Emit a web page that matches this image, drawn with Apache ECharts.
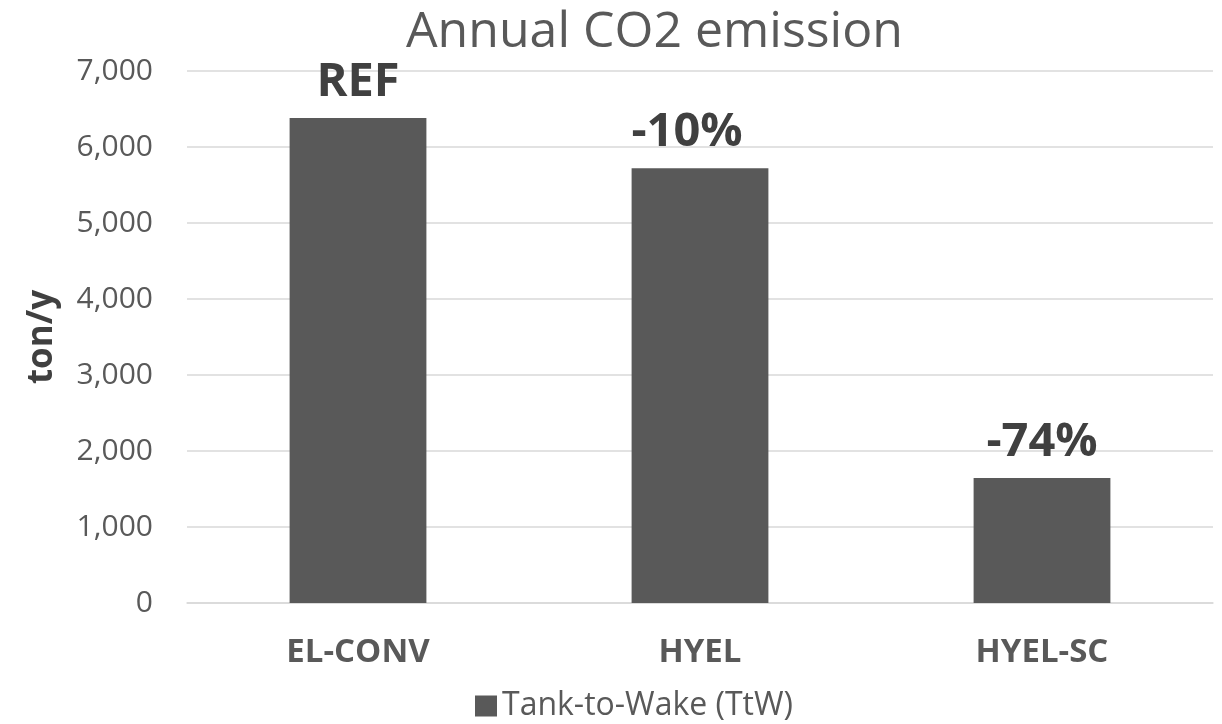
<!DOCTYPE html>
<html>
<head>
<meta charset="utf-8">
<script src="https://cdn.jsdelivr.net/npm/echarts@6/dist/echarts.min.js"></script>
<style>html,body{margin:0;padding:0;background:#fff}#c{width:1222px;height:724px}</style>
</head>
<body>
<div id="c"></div>
<script>
const categories = ['EL-CONV', 'HYEL', 'HYEL-SC'];
const ttwValues = [6380, 5720, 1645];
const barLabels = ['REF', '-10%', '-74%'];
const seriesName = 'Tank-to-Wake (TtW)';

const chart = echarts.init(document.getElementById('c'));
const FONT = '"Open Sans", "Noto Sans", sans-serif';
const labelOffsets = [[0, 0], [-13, 0], [0, 0]];
chart.setOption({
  animation: false,
  backgroundColor: '#fff',
  textStyle: { fontFamily: FONT },
  title: {
    text: 'Annual CO2 emission',
    left: 401, top: 3,
    textStyle: { fontFamily: FONT, fontSize: 50, fontWeight: 'normal', color: '#595959' }
  },
  legend: {
    data: [seriesName],
    left: 470, top: 685,
    icon: 'rect', itemWidth: 22, itemHeight: 21, itemGap: 10,
    textStyle: { fontFamily: FONT, fontSize: 32, color: '#595959' }
  },
  grid: { left: 187, right: 9, top: 71, bottom: 121, containLabel: false },
  xAxis: {
    type: 'category',
    data: categories,
    axisLine: { lineStyle: { color: '#d9d9d9', width: 1.5 } },
    axisTick: { show: false },
    axisLabel: { fontFamily: FONT, fontSize: 33, fontWeight: 'bold', color: '#595959', margin: 33 }
  },
  yAxis: {
    type: 'value',
    min: 0, max: 7000, interval: 1000,
    name: 'ton/y',
    nameLocation: 'middle',
    nameGap: 127,
    nameTextStyle: { fontFamily: FONT, fontSize: 35, fontWeight: 'bold', color: '#404040' },
    axisLine: { show: false },
    axisTick: { show: false },
    splitLine: { lineStyle: { color: '#d9d9d9', width: 1.5 } },
    axisLabel: {
      fontFamily: FONT, fontSize: 30, color: '#595959', margin: 34,
      formatter: v => v.toLocaleString('en-US')
    }
  },
  series: [{
    name: seriesName,
    type: 'bar',
    data: ttwValues.map((v, i) => ({ value: v, label: { offset: labelOffsets[i] } })),
    barWidth: '40%',
    itemStyle: { color: '#595959' },
    label: {
      show: true, position: 'top', distance: 12,
      formatter: p => barLabels[p.dataIndex],
      fontFamily: FONT, fontSize: 47, fontWeight: 'bold', color: '#404040'
    }
  }]
});
</script>
</body>
</html>
